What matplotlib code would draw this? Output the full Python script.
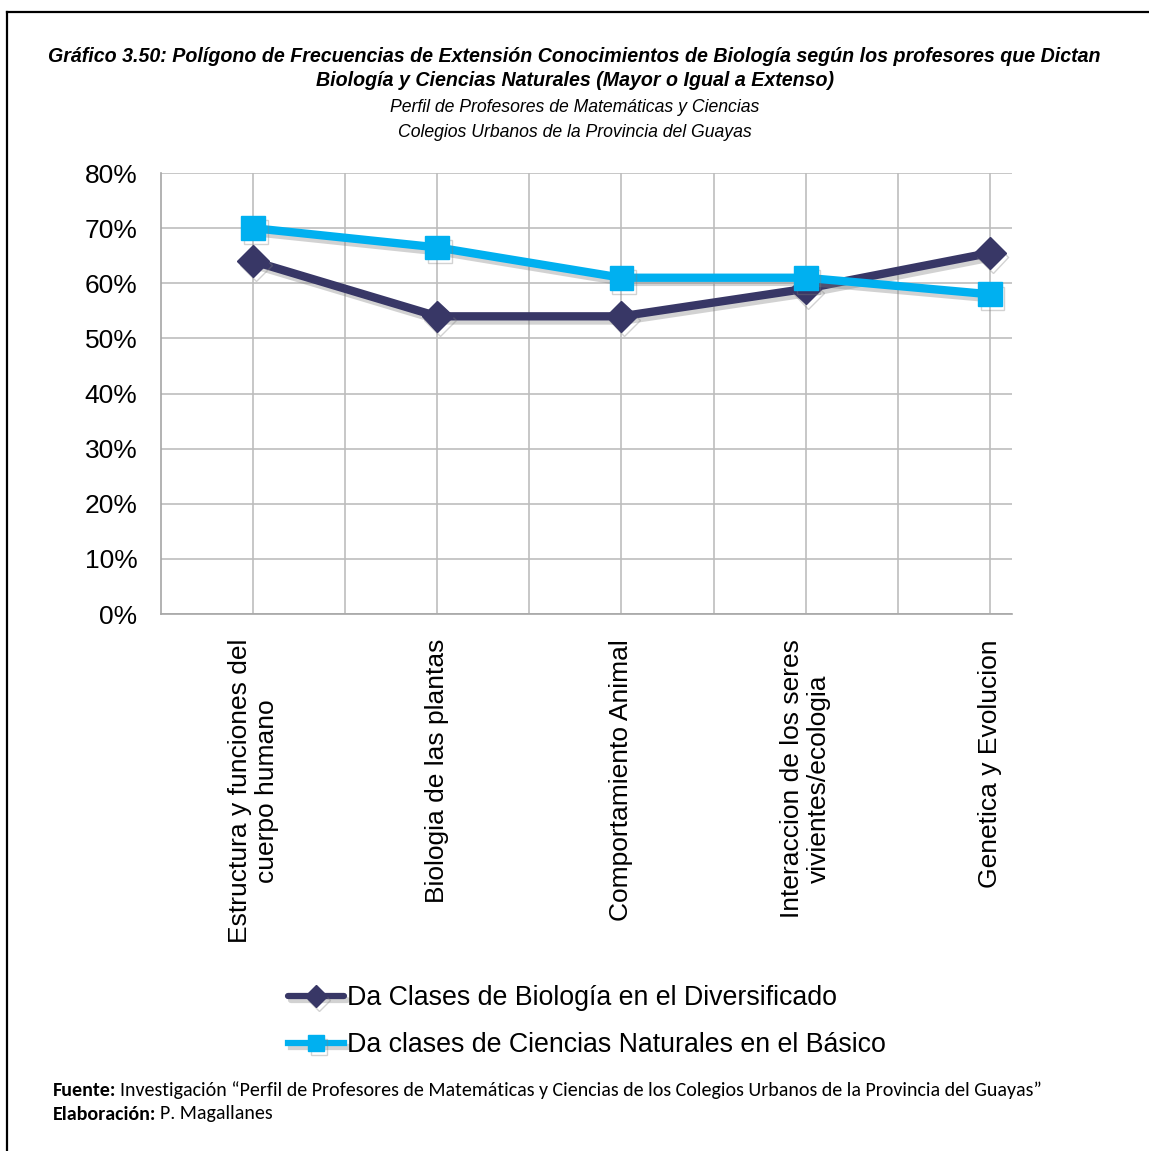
import matplotlib
matplotlib.use('Agg')
import matplotlib.pyplot as plt
import matplotlib.patheffects as pe
from matplotlib.lines import Line2D

categories = ['Estructura y funciones del\ncuerpo humano', 'Biologia de las plantas',
              'Comportamiento Animal', 'Interaccion de los seres\nvivientes/ecologia',
              'Genetica y Evolucion']
diversificado = [64.0, 54.0, 54.0, 59.0, 65.5]
basico = [70.0, 66.5, 61.0, 61.0, 58.0]
series_names = ['Da Clases de Biología en el Diversificado',
                'Da clases de Ciencias Naturales en el Básico']
y_ticks = [0, 10, 20, 30, 40, 50, 60, 70, 80]

DARK = '#383766'
CYAN = '#00B0F0'
W, H = 1149, 1151

plt.rcParams['font.family'] = ['Liberation Sans', 'DejaVu Sans']
fig = plt.figure(figsize=(W / 100, H / 100), dpi=100)

# frame lines (left and top only)
fig.add_artist(Line2D([7 / W, 7 / W], [0, 1 - 12 / H], color='black', lw=1.6))
fig.add_artist(Line2D([7 / W, 1], [1 - 12 / H, 1 - 12 / H], color='black', lw=1.6))

ax = fig.add_axes([161 / W, 1 - 614 / H, (1012 - 161) / W, (614 - 173) / H])
x = list(range(len(categories)))

shadow = [pe.SimpleLineShadow(offset=(2, -3), shadow_color='gray', alpha=0.35), pe.Normal()]
ax.plot(x, diversificado, color=DARK, lw=6, marker='D', ms=16, solid_capstyle='round',
        label=series_names[0], path_effects=shadow, zorder=3)
ax.plot(x, basico, color=CYAN, lw=6, marker='s', ms=17,
        label=series_names[1], path_effects=shadow, zorder=4)

ax.set_xlim(-0.5, 4.12)
ax.set_ylim(0, 80)
ax.set_yticks(y_ticks)
ax.set_yticklabels([f'{v}%' for v in y_ticks], fontsize=19)
ax.set_xticks(x)
ax.set_xticklabels(categories, rotation=90, fontsize=19, multialignment='center',
                   linespacing=1.15)
ax.set_xticks([i + 0.5 for i in range(4)], minor=True)
ax.tick_params(axis='both', which='both', length=0)
ax.tick_params(axis='y', pad=17)
ax.tick_params(axis='x', pad=18)
ax.grid(True, which='both', color='#BDBDBD', lw=1.2)
ax.set_axisbelow(True)
for s in ['top', 'right']:
    ax.spines[s].set_visible(False)
for s in ['left', 'bottom']:
    ax.spines[s].set_color('#A6A6A6')
    ax.spines[s].set_linewidth(1.2)

leg = fig.legend(loc='upper left', bbox_to_anchor=(288 / W, 1 - 985 / H), frameon=False,
                 fontsize=19.3, handlelength=2.1, handletextpad=0.1, labelspacing=0.8,
                 borderpad=0, borderaxespad=0, markerscale=0.7)
for h in leg.legend_handles:
    h.set_linewidth(4.5)

narrow = ['Liberation Sans Narrow', 'Liberation Sans', 'DejaVu Sans']
fig.text(0.5, 1 - 68.5 / H,
         'Gráfico 3.50: Polígono de Frecuencias de Extensión Conocimientos de Biología según los profesores que Dictan\n'
         'Biología y Ciencias Naturales (Mayor o Igual a Extenso)',
         ha='center', va='center', fontsize=14.1, fontweight='bold', fontstyle='italic',
         family=narrow, linespacing=1.35)
fig.text(0.5, 1 - 108 / H, 'Perfil de Profesores de Matemáticas y Ciencias', ha='center', va='center',
         fontsize=12.7, fontstyle='italic', family=narrow)
fig.text(0.5, 1 - 132 / H, 'Colegios Urbanos de la Provincia del Guayas', ha='center', va='center',
         fontsize=12.7, fontstyle='italic', family=narrow)

foot = ['Carlito', 'Open Sans', 'DejaVu Sans']
fs = 14.4
fig.canvas.draw()
r = fig.canvas.get_renderer()
t1 = fig.text(53 / W, 1 - 1090 / H, 'Fuente:', fontsize=fs, fontweight='bold', family=foot, va='center')
t2 = fig.text(53 / W, 1 - 1114 / H, 'Elaboración:', fontsize=fs, fontweight='bold', family=foot, va='center')
fig.canvas.draw()
e1 = t1.get_window_extent(r)
e2 = t2.get_window_extent(r)
fig.text((e1.x1 + 4) / W, 1 - 1090 / H,
         'Investigación “Perfil de Profesores de Matemáticas y Ciencias de los Colegios Urbanos de la Provincia del Guayas”',
         fontsize=fs, family=foot, va='center')
fig.text((e2.x1 + 4) / W, 1 - 1114 / H, 'P. Magallanes', fontsize=fs, family=foot, va='center')

fig.savefig('out.png', dpi=100)
